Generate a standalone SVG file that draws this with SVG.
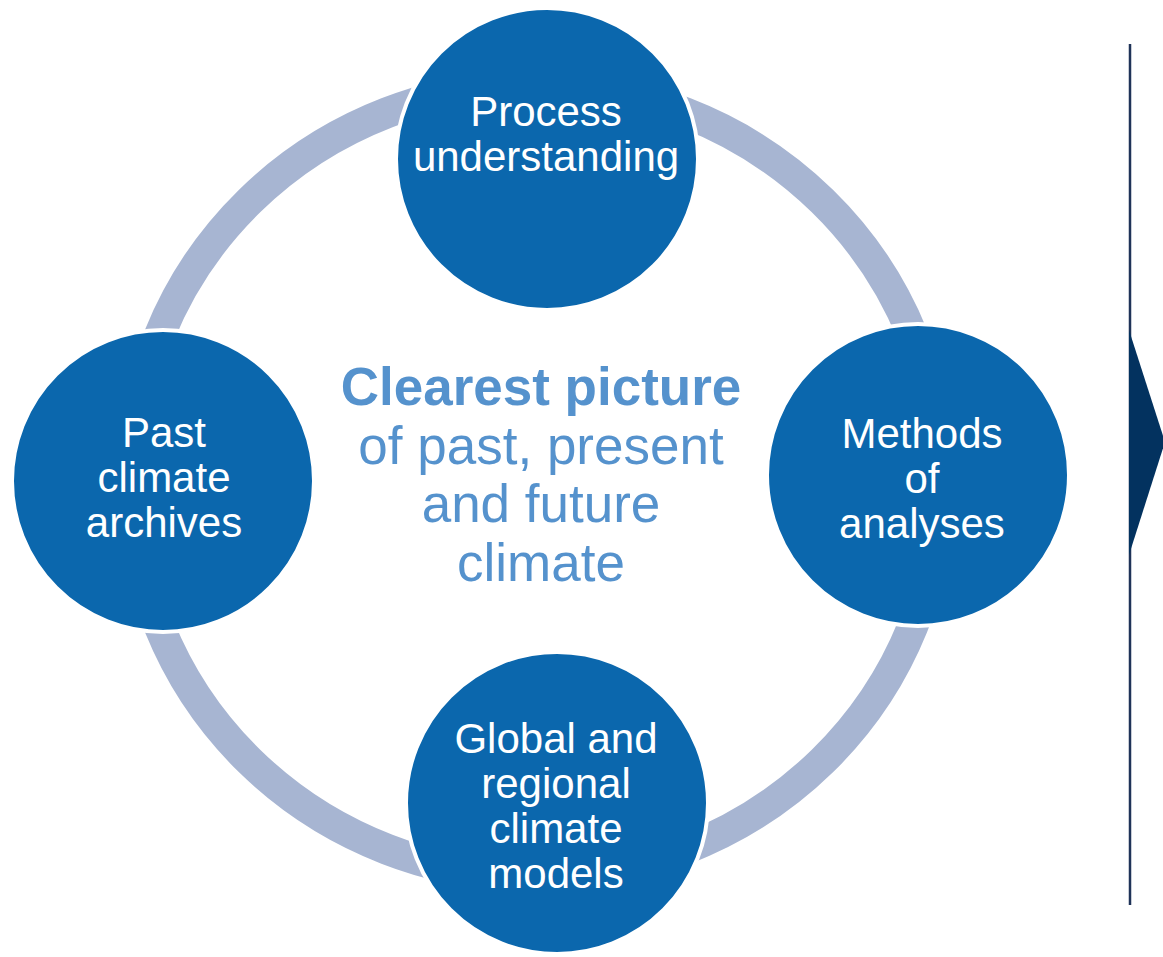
<svg xmlns="http://www.w3.org/2000/svg" width="1163" height="957" viewBox="0 0 1163 957">
  <style>
    .node { fill: #0B67AD; stroke: #FFFFFF; stroke-width: 4; }
    .label { font-family: "Liberation Sans", Arial, sans-serif; font-size: 42px; fill: #FFFFFF; text-anchor: middle; }
    .center { font-family: "Liberation Sans", Arial, sans-serif; font-size: 53px; fill: #5592CD; text-anchor: middle; }
    .ring { fill: none; stroke: #A7B5D2; stroke-width: 31; }
  </style>
  <rect width="1163" height="957" fill="#FFFFFF"/>

  <!-- cycle ring linking the four topics -->
  <g id="connectors">
    <ellipse class="ring" cx="536" cy="481" rx="405" ry="396"/>
  </g>

  <!-- central statement -->
  <g id="center-text">
    <text class="center" x="541" y="405" font-weight="bold">Clearest picture</text>
    <text class="center" x="541" y="464">of past, present</text>
    <text class="center" x="541" y="522">and future</text>
    <text class="center" x="541" y="581">climate</text>
  </g>

  <g id="node-process">
    <circle class="node" cx="547" cy="159" r="151"/>
    <text class="label" x="546" y="126">Process</text>
    <text class="label" x="546" y="171">understanding</text>
  </g>

  <g id="node-past">
    <circle class="node" cx="163" cy="481" r="151"/>
    <text class="label" x="164" y="447">Past</text>
    <text class="label" x="164" y="492">climate</text>
    <text class="label" x="164" y="537">archives</text>
  </g>

  <g id="node-methods">
    <circle class="node" cx="918" cy="475" r="151"/>
    <text class="label" x="922" y="448">Methods</text>
    <text class="label" x="922" y="493">of</text>
    <text class="label" x="922" y="538">analyses</text>
  </g>

  <g id="node-models">
    <circle class="node" cx="557" cy="803" r="151"/>
    <text class="label" x="556" y="753">Global and</text>
    <text class="label" x="556" y="798">regional</text>
    <text class="label" x="556" y="843">climate</text>
    <text class="label" x="556" y="888">models</text>
  </g>

  <!-- divider with pointer on the right edge -->
  <g id="divider">
    <line x1="1130" y1="44" x2="1130" y2="905" stroke="#1F3358" stroke-width="2.5"/>
    <polygon points="1129,330 1165,442 1129,555" fill="#03325F"/>
  </g>
</svg>
